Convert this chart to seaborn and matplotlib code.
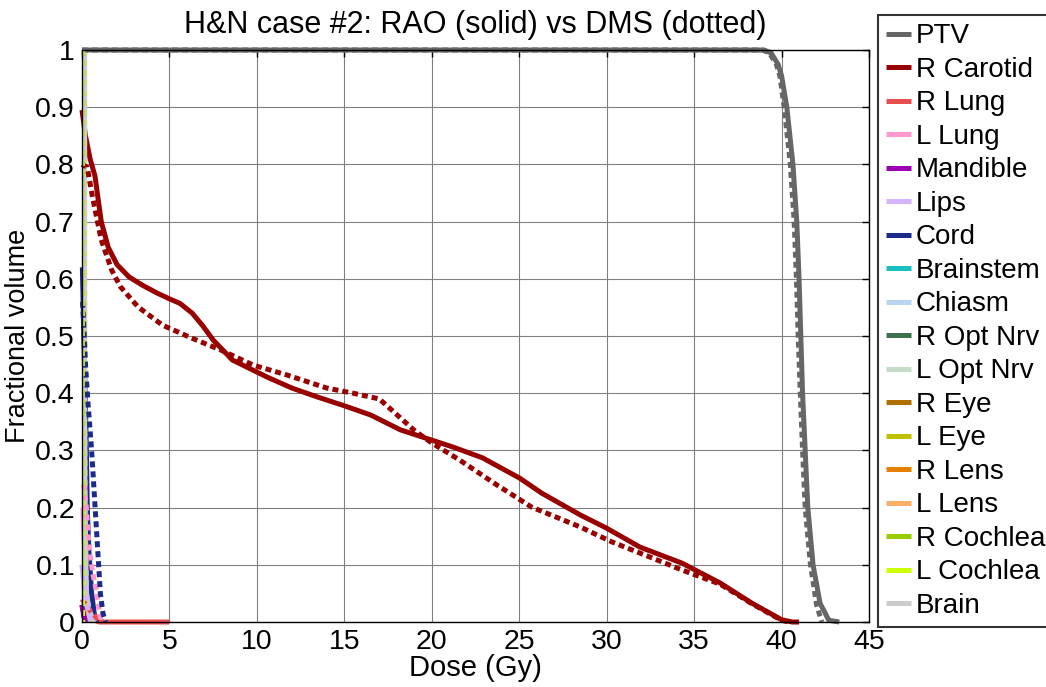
import matplotlib
matplotlib.use("Agg")
import matplotlib.pyplot as plt
import seaborn as sns

# structures, in legend order, with their colours
organs = ["PTV", "R Carotid", "R Lung", "L Lung", "Mandible", "Lips", "Cord",
          "Brainstem", "Chiasm", "R Opt Nrv", "L Opt Nrv", "R Eye", "L Eye",
          "R Lens", "L Lens", "R Cochlea", "L Cochlea", "Brain"]
colors = ["#666666", "#990000", "#e84d4d", "#ff99cc", "#9d00b3", "#d4b3ff", "#1a2b8a",
          "#1abfbf", "#b8d4f0", "#3d7050", "#c4dcc8", "#b07000", "#c0c000",
          "#e67e00", "#ffae66", "#99cc00", "#ccff00", "#cccccc"]

# DVH curves: RAO (solid)
ptv_x = [0, 39.0, 39.4, 39.8, 40.0, 40.3, 40.65, 40.87, 41.0, 41.1, 41.2, 41.35, 41.5, 41.8, 42.2, 42.7, 43.3]
ptv_y = [1, 1, 0.995, 0.975, 0.955, 0.9, 0.8, 0.7, 0.6, 0.5, 0.4, 0.3, 0.2, 0.1, 0.033, 0.003, 0]
car_x = [0, 0.2, 0.46, 0.74, 1.1, 1.5, 2.0, 2.7, 3.5, 4.3, 5.0, 5.6, 6.3, 6.9, 7.5, 8.6, 10.6, 12.0,
         13.5, 15.0, 16.5, 18.2, 20.0, 21.2, 22.9, 25.0, 26.3, 28.5, 30.0, 31.9, 34.3, 36.5, 38.3,
         40.0, 40.6, 41.0]
car_y = [0.895, 0.85, 0.81, 0.78, 0.70, 0.655, 0.625, 0.603, 0.588, 0.575, 0.565, 0.557, 0.54, 0.518,
         0.493, 0.458, 0.428, 0.409, 0.393, 0.378, 0.362, 0.336, 0.318, 0.306, 0.287, 0.252, 0.225,
         0.187, 0.164, 0.131, 0.103, 0.068, 0.033, 0.004, 0.0, 0.0]
rlung_x = [0, 0.3, 0.6, 1.0, 5.0]
rlung_y = [0.03, 0.012, 0.004, 0.0, 0.0]
llung_x = [0.05, 0.1, 0.2, 0.35, 0.5, 0.7]
llung_y = [0.2, 0.15, 0.1, 0.05, 0.02, 0]
mand_x = [0, 0.1, 0.3]
mand_y = [0.03, 0.01, 0]
lips_x = [0, 0.2, 0.5]
lips_y = [0.1, 0.04, 0]
cord_x = [0.02, 0.05, 0.1, 0.18, 0.25, 0.3, 0.4, 0.55, 0.7, 0.85]
cord_y = [0.62, 0.58, 0.5, 0.4, 0.3, 0.2, 0.12, 0.05, 0.015, 0]
small_x = [0, 0, 0.03]
small_y = [1, 0.3, 0]
brain_x = [0.15, 0.15, 0.17, 0.25, 0.4, 0.7]
brain_y = [1.0, 0.6, 0.2, 0.05, 0.02, 0]

# DMS (dotted)
ptv_dx = [0, 38.9, 39.3, 39.7, 39.9, 40.15, 40.5, 40.72, 40.85, 40.95, 41.07, 41.2, 41.35, 41.65, 42.0, 42.3]
ptv_dy = [1, 1, 0.995, 0.975, 0.955, 0.9, 0.8, 0.7, 0.6, 0.5, 0.4, 0.3, 0.2, 0.1, 0.03, 0]
car_dx = [0, 0.3, 0.6, 1.1, 1.7, 2.2, 3.2, 4.6, 6.3, 7.9, 9.8, 11.7, 14.0, 15.5, 17.0, 18.2, 19.0,
          20.0, 21.6, 23.7, 25.7, 28.5, 30.3, 32.6, 34.3, 36.5, 38.3, 40.0, 40.4]
car_dy = [0.80, 0.795, 0.743, 0.668, 0.615, 0.586, 0.551, 0.519, 0.496, 0.476, 0.449, 0.432, 0.409,
          0.40, 0.39, 0.357, 0.335, 0.313, 0.283, 0.24, 0.201, 0.166, 0.14, 0.112, 0.091, 0.066,
          0.032, 0.003, 0]
rlung_dx = [0, 0.45, 0.9, 1.2]
rlung_dy = [0.04, 0.02, 0.005, 0]
llung_dx = [0.1, 0.25, 0.36, 0.5, 0.65, 0.85, 1.0, 1.1]
llung_dy = [0.24, 0.2, 0.15, 0.11, 0.08, 0.05, 0.015, 0]
cord_dx = [0.03, 0.1, 0.2, 0.35, 0.55, 0.75, 0.95, 1.05, 1.2, 1.35]
cord_dy = [0.56, 0.52, 0.45, 0.38, 0.3, 0.2, 0.1, 0.05, 0.015, 0]

solid = [(ptv_x, ptv_y), (car_x, car_y), (rlung_x, rlung_y), (llung_x, llung_y),
         (mand_x, mand_y), (lips_x, lips_y), (cord_x, cord_y)] + \
        [(small_x, small_y)] * 10 + [(brain_x, brain_y)]
dotted = [(ptv_dx, ptv_dy), (car_dx, car_dy), (rlung_dx, rlung_dy), (llung_dx, llung_dy),
          (mand_x, mand_y), (lips_x, lips_y), (cord_dx, cord_dy)] + \
         [(small_x, small_y)] * 10 + [(brain_x, brain_y)]

sns.set_style("white")
plt.rcParams["font.family"] = ["Liberation Sans", "DejaVu Sans"]
plt.rcParams["text.color"] = "black"
plt.rcParams["axes.labelcolor"] = "black"
plt.rcParams["xtick.color"] = "black"
plt.rcParams["ytick.color"] = "black"

fig = plt.figure(figsize=(10.46, 6.87), dpi=100)
ax = fig.add_axes([0.0784, 0.0946, 0.7524, 0.8326])

lw = 3.6
for name, c, (x, y) in zip(organs, colors, solid):
    sns.lineplot(x=x, y=y, ax=ax, color=c, lw=lw, label=name, sort=False,
                 estimator=None, solid_capstyle="butt", clip_on=(x is small_x))
# brain first, so the small organs at 0 Gy sit on top of it
order = [17] + list(range(17))
for i in order:
    x, y = dotted[i]
    sns.lineplot(x=x, y=y, ax=ax, color=colors[i], lw=lw, sort=False, estimator=None,
                 linestyle=(0, (1.2, 0.8)), dash_capstyle="butt", clip_on=(x is small_x))

ax.set_xlim(0, 45)
ax.set_ylim(0, 1)
ax.set_xticks(range(0, 46, 5))
yt = [i / 10 for i in range(11)]
ax.set_yticks(yt)
ax.set_yticklabels(["0"] + [f"{v:.1f}" for v in yt[1:-1]] + ["1"])
ax.grid(True, color="0.5", lw=0.8)
ax.set_axisbelow(True)
ax.tick_params(direction="in", length=5, width=1, top=True, right=True,
               labelsize=20.5, color="black", labelcolor="black")
ax.tick_params(axis="x", pad=5)
ax.tick_params(axis="y", pad=5)
for s in ax.spines.values():
    s.set_color("black")
    s.set_linewidth(1)

ax.set_title("H&N case #2: RAO (solid) vs DMS (dotted)", fontsize=22, pad=12)
ax.set_xlabel("Dose (Gy)", fontsize=21, labelpad=-1)
ax.set_ylabel("Fractional volume", fontsize=19.5, labelpad=3)

leg = ax.legend(loc="upper left", bbox_to_anchor=(0.8394, 0.978), bbox_transform=fig.transFigure,
                fontsize=20, frameon=True, fancybox=False, handlelength=0.9, handletextpad=0.15,
                labelspacing=0.27, borderpad=0.3, borderaxespad=0)
leg.get_frame().set_edgecolor("black")
leg.get_frame().set_linewidth(1.5)

fig.savefig("out.png", dpi=100)
